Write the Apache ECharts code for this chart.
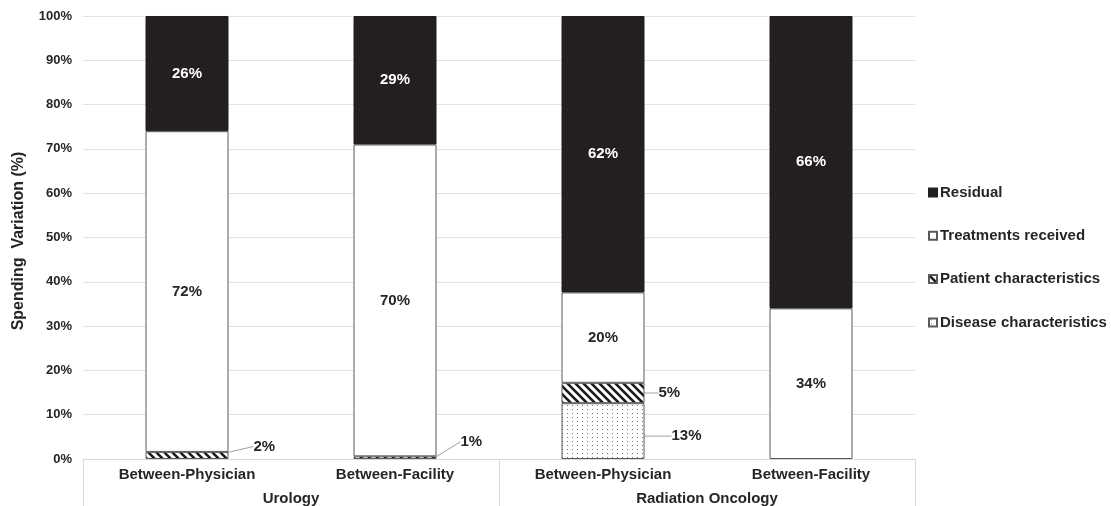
<!DOCTYPE html>
<html>
<head>
<meta charset="utf-8">
<script src="https://cdn.jsdelivr.net/npm/echarts/dist/echarts.min.js"></script>
<style>
  html, body { margin: 0; padding: 0; background: #fff; }
  #chart { width: 1111px; height: 506px; }
</style>
</head>
<body>
<div id="chart"></div>
<script>
var categories = ["Between-Physician", "Between-Facility", "Between-Physician", "Between-Facility"];
var groups = ["Urology", "Radiation Oncology"];
var disease = [null, null, 12.6, null];
var patient = [1.6, 0.6, 4.6, null];
var treatments = [72.4, 70.4, 20.4, 34];
var residual = [26, 29, 62.4, 66];

// label offsets for the small segments (moved out to the right)
var patientShift = [[20, -9], [19, -16], [9, 0], null];
var diseaseShift = [null, null, [22, 5], null];

var font = "Liberation Sans, Arial, sans-serif";
var textColor = "#262626";
var edge = "#5a5a5a";

function makePattern(type) {
  var c = document.createElement("canvas");
  var ctx;
  if (type === "hatch") {
    c.width = 8; c.height = 8;
    ctx = c.getContext("2d");
    ctx.fillStyle = "#fff";
    ctx.fillRect(0, 0, 8, 8);
    ctx.strokeStyle = "#1a1a1a";
    ctx.lineWidth = 2.6;
    ctx.beginPath();
    ctx.moveTo(-2, -2); ctx.lineTo(10, 10);
    ctx.moveTo(-10, -2); ctx.lineTo(2, 10);
    ctx.moveTo(6, -2); ctx.lineTo(18, 10);
    ctx.stroke();
  } else {
    c.width = 5; c.height = 4;
    ctx = c.getContext("2d");
    ctx.fillStyle = "#fff";
    ctx.fillRect(0, 0, 5, 4);
    ctx.fillStyle = "#777";
    ctx.fillRect(2, 1, 1, 1);
  }
  return { image: c, repeat: "repeat" };
}

function pct(p) {
  return Math.round(p.value) + "%";
}

function shiftLayout(shifts) {
  return function (p) {
    var s = shifts[p.dataIndex];
    return s ? { dx: s[0], dy: s[1] } : {};
  };
}

var chart = echarts.init(document.getElementById("chart"));

var option = {
  animation: false,
  backgroundColor: "#fff",
  textStyle: { fontFamily: font },
  grid: { left: 83, right: 196, top: 16, bottom: 47 },
  legend: {
    orient: "vertical",
    left: 923,
    top: 180,
    itemGap: 28.3,
    itemWidth: 8,
    itemHeight: 8,
    icon: "rect",
    data: ["Residual", "Treatments received", "Patient characteristics", "Disease characteristics"],
    textStyle: { fontFamily: font, fontWeight: "bold", fontSize: 15, color: textColor, padding: [0, 0, 0, -2] }
  },
  xAxis: [
    {
      type: "category",
      data: categories,
      position: "bottom",
      axisLine: { show: true, lineStyle: { color: "#d9d9d9", width: 1 } },
      axisTick: { show: false },
      axisLabel: { margin: 8, fontFamily: font, fontWeight: "bold", fontSize: 15, color: textColor, interval: 0 },
      splitLine: { show: false }
    },
    {
      type: "category",
      data: groups,
      position: "bottom",
      offset: 0,
      axisLine: { show: true, lineStyle: { color: "#d9d9d9", width: 1 } },
      axisTick: { show: true, length: 47, lineStyle: { color: "#d9d9d9", width: 1 } },
      axisLabel: { margin: 32, fontFamily: font, fontWeight: "bold", fontSize: 15, color: textColor },
      splitLine: { show: false }
    }
  ],
  yAxis: {
    type: "value",
    min: 0,
    max: 100,
    interval: 10,
    name: "Spending  Variation (%)",
    nameLocation: "middle",
    nameGap: 56,
    nameRotate: 90,
    nameTextStyle: { fontFamily: font, fontWeight: "bold", fontSize: 16, color: textColor, padding: [0, 7, 0, 0] },
    axisLine: { show: false },
    axisTick: { show: false },
    axisLabel: { formatter: "{value}%", margin: 11, fontFamily: font, fontWeight: "bold", fontSize: 13, color: textColor },
    splitLine: { show: true, lineStyle: { color: "#e2e2e2", width: 1 } }
  },
  series: [
    {
      name: "Disease characteristics",
      type: "bar",
      stack: "total",
      barWidth: 83,
      data: disease,
      itemStyle: { color: makePattern("dots"), borderColor: edge, borderWidth: 1 },
      label: { show: true, position: "right", formatter: pct, fontFamily: font, fontWeight: "bold", fontSize: 15, color: textColor },
      labelLayout: shiftLayout(diseaseShift),
      labelLine: { show: true, lineStyle: { color: "#a0a0a0", width: 1 } }
    },
    {
      name: "Patient characteristics",
      type: "bar",
      stack: "total",
      barWidth: 83,
      data: patient,
      itemStyle: { color: makePattern("hatch"), borderColor: edge, borderWidth: 1 },
      label: { show: true, position: "right", formatter: pct, fontFamily: font, fontWeight: "bold", fontSize: 15, color: textColor },
      labelLayout: shiftLayout(patientShift),
      labelLine: { show: true, lineStyle: { color: "#a0a0a0", width: 1 } }
    },
    {
      name: "Treatments received",
      type: "bar",
      stack: "total",
      barWidth: 83,
      data: treatments,
      itemStyle: { color: "#fff", borderColor: edge, borderWidth: 1 },
      label: { show: true, position: "inside", formatter: pct, fontFamily: font, fontWeight: "bold", fontSize: 15, color: textColor }
    },
    {
      name: "Residual",
      type: "bar",
      stack: "total",
      barWidth: 83,
      data: residual,
      itemStyle: { color: "#231f20", borderColor: "#231f20", borderWidth: 1 },
      label: { show: true, position: "inside", formatter: pct, fontFamily: font, fontWeight: "bold", fontSize: 15, color: "#fff" }
    }
  ]
};

chart.setOption(option);
</script>
</body>
</html>
